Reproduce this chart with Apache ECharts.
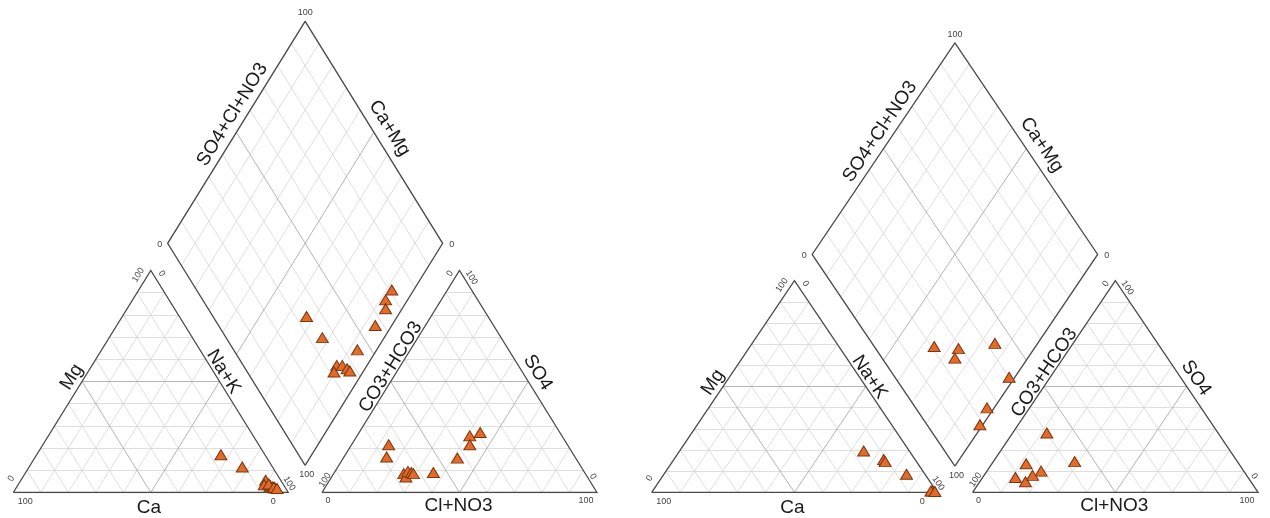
<!DOCTYPE html>
<html>
<head>
<meta charset="utf-8">
<script src="https://cdn.jsdelivr.net/npm/echarts@6/dist/echarts.min.js"></script>
<style>
  html, body { margin: 0; background: #fff; }
  #main { width: 1270px; height: 518px; }
</style>
</head>
<body>
<div id="main"></div>
<script>
// left diagram samples, % meq
const leftCa   = [5.2, 5, 3.8, 4, 16, 11, 4.5, 5.5, 7, 5.2, 4.1, 3.2];
const leftMg   = [2.8, 3, 2.2, 2, 17, 11.5, 2.5, 5.5, 3.5, 3.8, 2.4, 1.8];
const leftNaK  = [92, 92, 94, 94, 67, 77.5, 93, 89, 89.5, 91, 93.5, 95];
const leftHCO3 = [29, 33.5, 35.5, 43, 66, 65, 55, 66, 68.5, 64, 63, 62.5];
const leftSO4  = [27, 25.5, 21.5, 15.5, 8.5, 21.5, 9, 7, 16, 9.5, 9, 8.5];
const leftCl   = [44, 41, 43, 41.5, 25.5, 13.5, 36, 27, 15.5, 26.5, 28, 29];

// right diagram samples, % meq
const rightCa   = [16, 11, 11, 6.5, 1.4, 1.9, 0.6];
const rightMg   = [19.5, 15.5, 14.5, 8.5, 0.6, 0.6, 0.4];
const rightNaK  = [64.5, 73.5, 74.5, 85, 98, 97.5, 99];
const rightHCO3 = [79, 71, 74.5, 57, 60, 75, 81.5];
const rightSO4  = [5, 10, 13.5, 14.5, 28, 8, 7];
const rightCl   = [16, 19, 12, 28.5, 12, 17, 11.5];

// axis names
const cationNames = ['Ca', 'Mg', 'Na+K'];
const anionNames = ['Cl+NO3', 'CO3+HCO3', 'SO4'];
const diamondNames = ['SO4+Cl+NO3', 'Ca+Mg'];

// panel geometry (pixels): x0,y0 = cation triangle bottom-left, S = side, H = triangle height, g = gap / side
const panels = [
  { x0: 13.3, y0: 492.5, S: 275, H: 222, g: 0.1225,
    ca: leftCa, mg: leftMg, nak: leftNaK, hco3: leftHCO3, so4: leftSO4, cl: leftCl },
  { x0: 651.7, y0: 492.3, S: 285.5, H: 211.6, g: 0.124,
    ca: rightCa, mg: rightMg, nak: rightNaK, hco3: rightHCO3, so4: rightSO4, cl: rightCl }
];

const FONT = '"Liberation Sans", Arial, sans-serif';

function pix(p, X, Y) { return [p.x0 + X * p.S, p.y0 - Y * p.H]; }

const grids = [], xAxes = [], yAxes = [], series = [], graphics = [];

function text(x, y, str, size, deg) {
  graphics.push({
    type: 'text', x: x, y: y, rotation: (deg || 0) * Math.PI / 180, silent: true,
    style: { text: str, fontSize: size, fontFamily: FONT, fill: size > 12 ? '#1a1a1a' : '#444',
             align: 'center', verticalAlign: 'middle' }
  });
}

panels.forEach(function (p, k) {
  const g = p.g, span = 2 + g, ax = 1 + g;
  grids.push({ left: p.x0, top: p.y0 - p.H * span, width: p.S * span, height: p.H * span });
  xAxes.push({ type: 'value', gridIndex: k, min: 0, max: span, show: false });
  yAxes.push({ type: 'value', gridIndex: k, min: 0, max: span, show: false });

  const B = [1 + g / 2, g], L = [0.5 + g / 2, 1 + g], R = [1.5 + g / 2, 1 + g], T = [1 + g / 2, 2 + g];
  const light = [], mid = [];
  for (let i = 1; i < 10; i++) {
    const t = i / 10;
    const segs = [
      [[t / 2, t], [1 - t / 2, t]],
      [[t, 0], [t + (1 - t) / 2, 1 - t]],
      [[1 - t, 0], [(1 - t) / 2, 1 - t]],
      [[ax + t / 2, t], [ax + 1 - t / 2, t]],
      [[ax + t, 0], [ax + t + (1 - t) / 2, 1 - t]],
      [[ax + 1 - t, 0], [ax + (1 - t) / 2, 1 - t]]
    ];
    const a = [B[0] + t * (L[0] - B[0]), B[1] + t * (L[1] - B[1])];
    segs.push([a, [a[0] + R[0] - B[0], a[1] + R[1] - B[1]]]);
    const b = [B[0] + t * (R[0] - B[0]), B[1] + t * (R[1] - B[1])];
    segs.push([b, [b[0] + L[0] - B[0], b[1] + L[1] - B[1]]]);
    segs.forEach(function (c) { (i === 5 ? mid : light).push({ coords: c }); });
  }
  const common = { type: 'lines', coordinateSystem: 'cartesian2d', xAxisIndex: k, yAxisIndex: k,
                   silent: true, animation: false };
  series.push(Object.assign({}, common, { data: light, lineStyle: { color: '#d6d6d6', width: 0.8, opacity: 1 } }));
  series.push(Object.assign({}, common, { data: mid, lineStyle: { color: '#ababab', width: 0.9, opacity: 1 } }));
  series.push(Object.assign({}, common, { polyline: true, z: 3,
    data: [
      { coords: [[0, 0], [1, 0], [0.5, 1], [0, 0]] },
      { coords: [[ax, 0], [ax + 1, 0], [ax + 0.5, 1], [ax, 0]] },
      { coords: [B, R, T, L, B] }
    ],
    lineStyle: { color: '#4a4a4a', width: 1.3, opacity: 1 } }));

  // sample points
  const pts = [];
  for (let i = 0; i < p.ca.length; i++) {
    pts.push([(p.nak[i] + p.mg[i] / 2) / 100, p.mg[i] / 100]);
    pts.push([ax + (p.cl[i] + p.so4[i] / 2) / 100, p.so4[i] / 100]);
    const u = (p.ca[i] + p.mg[i]) / 100, v = (p.so4[i] + p.cl[i]) / 100;
    pts.push([1 + g / 2 + (v - u) / 2, g + u + v]);
  }
  series.push({ type: 'scatter', xAxisIndex: k, yAxisIndex: k, z: 5, animation: false,
    symbol: 'triangle', symbolSize: [12, 10], data: pts,
    itemStyle: { color: '#e26b2a', borderColor: '#7d3510', borderWidth: 1, opacity: 1 } });

  // labels
  const ang = Math.atan2(p.H, p.S / 2) * 180 / Math.PI;
  const cL = pix(p, 0, 0), cR = pix(p, 1, 0), cT = pix(p, 0.5, 1);
  const aL = pix(p, ax, 0), aR = pix(p, ax + 1, 0), aT = pix(p, ax + 0.5, 1);
  const dT = pix(p, T[0], T[1]), dL = pix(p, L[0], L[1]), dR = pix(p, R[0], R[1]), dB = pix(p, B[0], B[1]);

  text(cL[0] + 12, cL[1] + 9, '100', 9, 0);
  text(cR[0] - 15, cR[1] + 9, '0', 9, 0);
  text(cL[0] - 2, cL[1] - 14, '0', 9, ang);
  text(cT[0] - 12.5, cT[1] + 4.5, '100', 9, ang);
  text(cT[0] + 11, cT[1] + 3, '0', 9, -ang);
  text(cR[0] + 1, cR[1] - 9, '100', 9, -ang);

  text(aL[0] + 6, aL[1] + 8, '0', 9, 0);
  text(aR[0] - 11, aR[1] + 8, '100', 9, 0);
  text(aL[0] + 3, aL[1] - 12.5, '100', 9, ang);
  text(aT[0] - 9.5, aT[1] + 3, '0', 9, ang);
  text(aT[0] + 12, aT[1] + 7, '100', 9, -ang);
  text(aR[0] - 4, aR[1] - 16, '0', 9, -ang);

  text(dT[0], dT[1] - 8.5, '100', 9, 0);
  text(dL[0] - 8, dL[1] + 1.5, '0', 9, 0);
  text(dR[0] + 9, dR[1] + 1.5, '0', 9, 0);
  text(dB[0] + 1.5, dB[1] + 9, '100', 9, 0);

  // axis titles
  text((cL[0] + cR[0]) / 2 - 2, p.y0 + 15, cationNames[0], 19, 0);
  let e = pix(p, 0.26, 0.52);
  text(e[0] - 13, e[1], cationNames[1], 19, ang);
  e = pix(p, 1 - 0.272, 0.544);
  text(e[0] + 10, e[1], cationNames[2], 19, -ang);

  text((aL[0] + aR[0]) / 2 - 1, p.y0 + 13.5, anionNames[0], 19, 0);
  e = pix(p, ax + 0.2825, 0.565);
  text(e[0] - 9, e[1], anionNames[1], 19, ang);
  e = pix(p, ax + 1 - 0.27, 0.54);
  text(e[0] + 15, e[1], anionNames[2], 19, -ang);

  e = pix(p, L[0] + 0.29, L[1] + 0.58);
  text(e[0] - 15, e[1], diamondNames[0], 19, ang);
  e = pix(p, R[0] - 0.259, R[1] + 0.518);
  text(e[0] + 18, e[1], diamondNames[1], 19, -ang);
});

const chart = echarts.init(document.getElementById('main'));
chart.setOption({
  backgroundColor: '#fff',
  animation: false,
  grid: grids,
  xAxis: xAxes,
  yAxis: yAxes,
  series: series,
  graphic: graphics
});
</script>
</body>
</html>
